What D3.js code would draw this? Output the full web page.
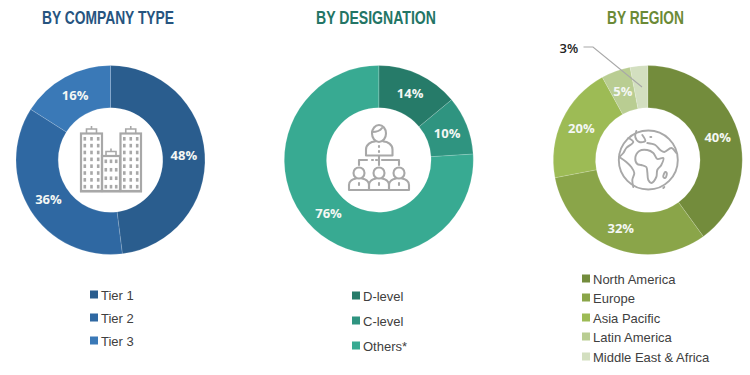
<!DOCTYPE html>
<html><head><meta charset="utf-8">
<script src="https://cdnjs.cloudflare.com/ajax/libs/d3/7.8.5/d3.min.js"></script>
<style>html,body{margin:0;padding:0;background:#fff}svg{display:block}</style></head>
<body><svg id="c" width="750" height="375"></svg>
<script>
const companyLabels=["Tier 1","Tier 2","Tier 3"];
const companyValues=[48,36,16];
const companyColors=["#2a5d8e","#2f68a2","#3a79b7"];
const designationLabels=["D-level","C-level","Others*"];
const designationValues=[14,10,76];
const designationColors=["#267b69","#2f9480","#38aa92"];
const regionLabels=["North America","Europe","Asia Pacific","Latin America","Middle East & Africa"];
const regionValues=[40,32,20,5,3];
const regionColors=["#738c3c","#8aa549","#9dbb55","#b9cd92","#d3dfc0"];
const titles=["BY COMPANY TYPE","BY DESIGNATION","BY REGION"];
const titleColors=["#26547f","#237565","#6b8a36"];

const svg=d3.select("#c");
const R=94.5,r=52.3,GRAY="#a8a8a8";
const pie=d3.pie().sort(null);
const arc=d3.arc().innerRadius(r).outerRadius(R);
const LABEL_FONT="'Open Sans',sans-serif";

function donut(cx,cy,values,colors,labelR,skip){
  const g=svg.append("g").attr("transform",`translate(${cx},${cy})`);
  const arcs=pie(values);
  g.selectAll("path").data(arcs).join("path").attr("d",arc)
    .attr("fill",(d,i)=>colors[i]).attr("stroke","#ffffff").attr("stroke-opacity",.25).attr("stroke-width",.6);
  const la=d3.arc().innerRadius(labelR).outerRadius(labelR);
  g.selectAll("text").data(arcs.filter(d=>!skip.includes(d.index))).join("text")
    .attr("transform",d=>`translate(${la.centroid(d)})`)
    .attr("text-anchor","middle").attr("dy","0.36em")
    .attr("font-family",LABEL_FONT).attr("font-weight",700).attr("font-size",13)
    .attr("fill","#f4f7f4").text(d=>d.data+"%");
  return g;
}
donut(110.5,160,companyValues,companyColors,73.5,[]);
donut(378.8,160,designationValues,designationColors,73.5,[]);
donut(647.8,160,regionValues,regionColors,73.5,[4]);

// titles, squeezed to the condensed width of the original
[[42,132],[316,120],[607,77]].forEach((t,i)=>{
  svg.append("text").attr("x",t[0]).attr("y",24)
   .attr("font-family","'Liberation Sans',sans-serif").attr("font-weight","bold")
   .attr("font-size",18).attr("fill",titleColors[i])
   .attr("textLength",t[1]).attr("lengthAdjust","spacingAndGlyphs").text(titles[i]);
});

// 3% callout
svg.append("text").attr("x",559.5).attr("y",52.5).attr("font-family",LABEL_FONT)
  .attr("font-size",13).attr("font-weight",600).attr("fill","#222").text(regionValues[4]+"%");
svg.append("path").attr("d","M583.5,47H593L642,87").attr("fill","none").attr("stroke",GRAY).attr("stroke-width",1.1);

// legends
function legend(x,ys,labels,colors,size){
  labels.forEach((l,i)=>{
    svg.append("rect").attr("x",x).attr("y",ys[i]-4.5).attr("width",size).attr("height",size).attr("fill",colors[i]);
    svg.append("text").attr("x",x+size+3).attr("y",ys[i]+4.5)
      .attr("font-family","'Liberation Sans',sans-serif").attr("font-size",13).attr("fill","#404040").text(l);
  });
}
legend(90,[295,318,341],companyLabels,companyColors,8);
legend(352,[296,321,346],designationLabels,designationColors,8);
legend(582,[279,298,318,337,357],regionLabels,regionColors,8);

// buildings icon
const ic=svg.append("g").attr("fill","none").attr("stroke",GRAY).attr("stroke-width",2.2).attr("stroke-linejoin","miter");
function building(x,top,w,bottom,rows){
  ic.append("rect").attr("x",x).attr("y",top).attr("width",w).attr("height",bottom-top);
  ic.append("path").attr("d",`M${x+w/2-5},${top}v-4.5h10v4.5M${x+w/2},${top-4.5}v-3`).attr("stroke-width",1.6);
  const cols=3,ww=2.6,gx=(w-5-ww)/(cols-1),gy=(bottom-top-6-3.6)/(rows-1);
  for(let a=0;a<cols;a++)for(let b=0;b<rows;b++)
    ic.append("rect").attr("x",x+2.5+a*gx).attr("y",top+3.5+b*gy).attr("width",ww).attr("height",3.6)
      .attr("fill",GRAY).attr("stroke","none");
}
building(81,133.5,21,191,8);
building(102,156,18,191,4);
building(120.5,133.5,20.5,191,8);
ic.append("path").attr("d","M80,191.3H142").attr("stroke-width",2.4);

// people icon
const pg=svg.append("g").attr("transform","translate(379,0)").attr("fill","none").attr("stroke",GRAY).attr("stroke-width",2.1).attr("stroke-linecap","round").attr("stroke-linejoin","round");
pg.append("ellipse").attr("cx",0).attr("cy",133.5).attr("rx",7).attr("ry",8.5);
pg.append("path").attr("d","M-7,132c3,0 8,-1 10,-4M-13,155.5v-6c0,-5 5,-8 9,-8M13.5,155.5v-6c0,-5 -5,-8 -9,-8M-13,155.5H13.5");
pg.append("path").attr("d","M0,146v1M0,151v1M0,156v9M-20,165v-5H-12M-7,160h1M-3,160h1M3,160H20v5");
[-20,0,20].forEach(x=>{
  pg.append("circle").attr("cx",x).attr("cy",173).attr("r",5.5);
  pg.append("path").attr("d",`M${x-10},190v-5c0,-4 4,-6 7,-6.5M${x+10},190v-5c0,-4 -4,-6 -7,-6.5M${x-10},190H${x+10}M${x},183v2`);
});

// globe icon
const gg=svg.append("g").attr("transform","translate(648.3,160)").attr("fill","none").attr("stroke",GRAY).attr("stroke-width",1.9).attr("stroke-linejoin","round").attr("stroke-linecap","round");
const curve=d3.line().curve(d3.curveCatmullRom.alpha(.5));
const closed=d3.line().curve(d3.curveCatmullRomClosed.alpha(.5));
gg.append("circle").attr("r",29.5);
gg.append("path").attr("d",closed([[-13,-2],[-9,-9],[-1,-10],[5,-7],[9,-1],[15,-2],[13,5],[9,10],[8,17],[3,23],[0,20],[-1,12],[-2,7],[-7,5],[-11,4]]));
gg.append("path").attr("d",curve([[-20,-22],[-15,-18],[-22,-12],[-25,-7],[-29,-3]]));
gg.append("path").attr("d",curve([[-29,-3],[-22,2],[-17,7],[-14,13],[-16,20],[-15,27]]));
gg.append("path").attr("d",curve([[-12,-29],[-13,-23],[-9,-18],[-3,-19],[-6,-25]]));
gg.append("path").attr("d",curve([[-1,-17],[7,-15],[12,-10],[16,-8],[23,-12],[28,-7]]));
gg.append("path").attr("d",curve([[2,-23],[3,-23]]));
gg.append("path").attr("d",closed([[15,17],[17,12],[18.5,13],[17,18]]));
gg.append("path").attr("d","M15,28l1,-1");
</script></body></html>
